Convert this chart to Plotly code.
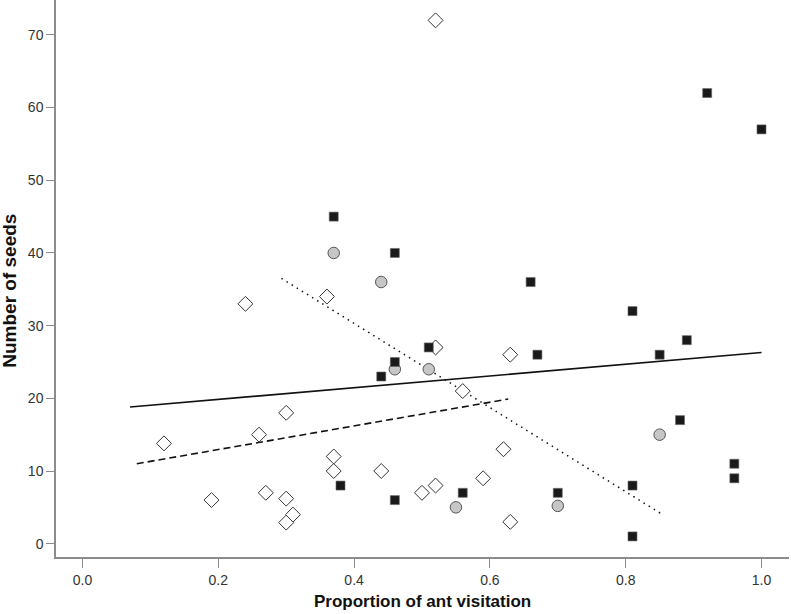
import plotly.graph_objects as go

# Open diamonds
dia_x = [0.52, 0.36, 0.24, 0.52, 0.63, 0.56, 0.30, 0.26, 0.12, 0.62, 0.37, 0.37, 0.44, 0.59, 0.52, 0.50, 0.27, 0.19, 0.30, 0.31, 0.30, 0.63]
dia_y = [72, 34, 33, 27, 26, 21, 18, 15, 13.8, 13, 12, 10, 10, 9, 8, 7, 7, 6, 6.2, 4, 2.9, 3]

# Grey circles
cir_x = [0.37, 0.44, 0.46, 0.51, 0.55, 0.70, 0.85]
cir_y = [40, 36, 24, 24, 5, 5.2, 15]

# Black squares
sq_x = [0.37, 0.46, 0.66, 0.92, 1.00, 0.81, 0.89, 0.85, 0.88, 0.96, 0.96, 0.81, 0.70, 0.81, 0.51, 0.67, 0.46, 0.44, 0.38, 0.56, 0.46]
sq_y = [45, 40, 36, 62, 57, 32, 28, 26, 17, 11, 9, 8, 7, 1, 27, 26, 25, 23, 8, 7, 6]

# Fitted lines (endpoints)
solid_x = [0.07, 1.00]
solid_y = [18.8, 26.3]
dash_x = [0.08, 0.627]
dash_y = [11.0, 19.9]
dot_x = [0.293, 0.851]
dot_y = [36.5, 4.2]

x_ticks = [0.0, 0.2, 0.4, 0.6, 0.8, 1.0]
x_ticklabels = ["0.0", "0.2", "0.4", "0.6", "0.8", "1.0"]
y_ticks = [0, 10, 20, 30, 40, 50, 60, 70]

fig = go.Figure()

fig.add_trace(go.Scatter(x=solid_x, y=solid_y, mode="lines",
                         line=dict(color="#111111", width=1.6)))
fig.add_trace(go.Scatter(x=dash_x, y=dash_y, mode="lines",
                         line=dict(color="#111111", width=1.6, dash="7px,4px")))
fig.add_trace(go.Scatter(x=dot_x, y=dot_y, mode="lines",
                         line=dict(color="#111111", width=1.5, dash="1.5px,4.5px")))

fig.add_trace(go.Scatter(x=dia_x, y=dia_y, mode="markers",
                         marker=dict(symbol="diamond", size=11.5, color="white",
                                     line=dict(color="#333333", width=1))))
fig.add_trace(go.Scatter(x=cir_x, y=cir_y, mode="markers",
                         marker=dict(symbol="circle", size=11.5, color="#c6c6c6",
                                     line=dict(color="#555555", width=1))))
fig.add_trace(go.Scatter(x=sq_x, y=sq_y, mode="markers",
                         marker=dict(symbol="square", size=9, color="#1a1a1a",
                                     line=dict(color="#666666", width=0.6))))

axis_col = "#8c8c8c"
fig.update_layout(
    width=791, height=614,
    margin=dict(l=56, r=2, t=0, b=57),
    paper_bgcolor="white", plot_bgcolor="white",
    showlegend=False,
    font=dict(family="Liberation Sans, Arial, sans-serif", color="#333333"),
    xaxis=dict(range=[-0.039, 1.0405], tickvals=x_ticks, ticktext=x_ticklabels,
               showgrid=False, zeroline=False, showline=True, linecolor=axis_col,
               linewidth=1.5, ticks="outside", ticklen=9, tickcolor=axis_col,
               tickwidth=1.2, tickfont=dict(size=14, color="#333333")),
    yaxis=dict(range=[-1.83, 74.8], tickvals=y_ticks,
               showgrid=False, zeroline=False, showline=True, linecolor=axis_col,
               linewidth=1.5, ticks="outside", ticklen=8, tickcolor=axis_col,
               tickwidth=1.2, tickfont=dict(size=14, color="#333333")),
    annotations=[
        dict(text="<b>Proportion of ant visitation</b>", xref="paper", yref="paper",
             x=0.5, y=-0.1014, xanchor="center", yanchor="bottom", showarrow=False,
             font=dict(size=17, color="#111111")),
        dict(text="<b>Number of seeds</b>", xref="paper", yref="paper",
             x=-0.0628, y=0.478, xanchor="center", yanchor="middle", textangle=-90,
             showarrow=False, font=dict(size=19, color="#111111")),
    ],
)

fig.write_html("out.html", config={"displayModeBar": False},
               post_script="document.body.style.margin='0';document.body.style.padding='0';")
